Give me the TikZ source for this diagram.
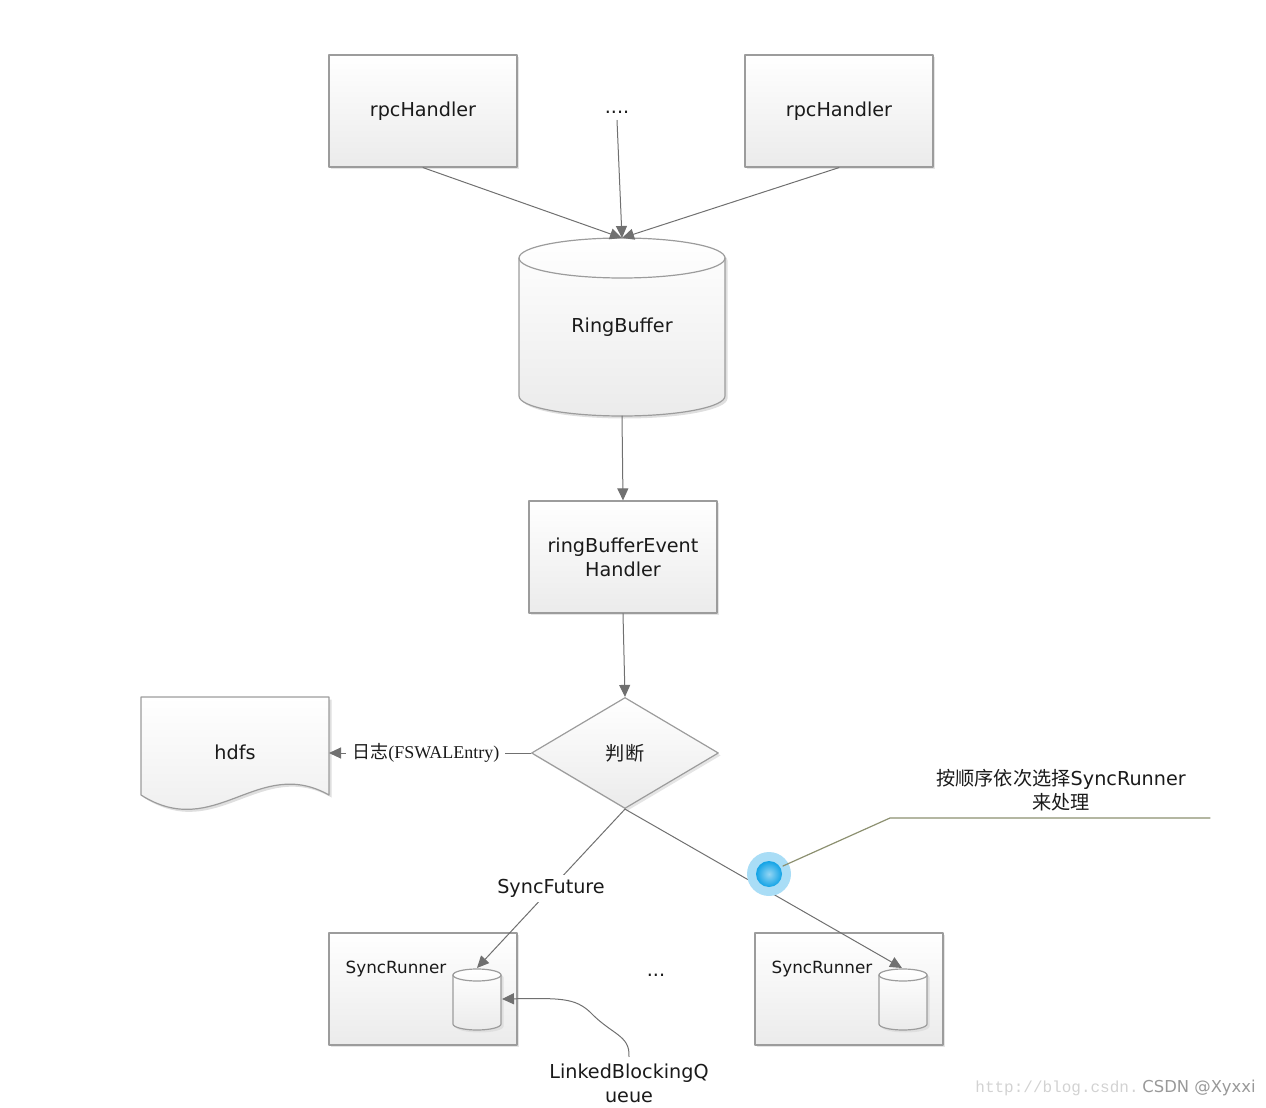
\documentclass[tikz,border=0pt]{standalone}
\usepackage{fontspec}
\setmainfont{DejaVu Sans}
\newfontfamily\cjk{Noto Sans CJK SC}
\newfontfamily\serifen{Liberation Serif}
\newfontfamily\monoen{Liberation Mono}
\usetikzlibrary{shapes.geometric,arrows.meta,shadows}

\definecolor{ink}{HTML}{1A1A1A}
\definecolor{boxline}{HTML}{9C9C9C}
\definecolor{boxfill}{HTML}{EBEBEB}
\definecolor{linkgray}{HTML}{707070}
\definecolor{noteline}{HTML}{8C9070}
\definecolor{dotouter}{HTML}{A9DDF6}
\definecolor{dotinner}{HTML}{12A3E6}

% cylinder: centre x, top y, bottom y, x radius, y radius
\newcommand{\drawdrum}[5]{%
  \path[fill=gray!25,shift={(2.5,2.5)}] ({#1-#4},#2) -- ({#1-#4},#3)
    arc[start angle=180,end angle=0,x radius=#4,y radius=#5] -- ({#1+#4},#2)
    arc[start angle=0,end angle=-180,x radius=#4,y radius=#5] -- cycle;
  \path[draw=boxline,line width=0.6pt,top color=white,bottom color=boxfill] ({#1-#4},#2) -- ({#1-#4},#3)
    arc[start angle=180,end angle=0,x radius=#4,y radius=#5] -- ({#1+#4},#2)
    arc[start angle=0,end angle=-180,x radius=#4,y radius=#5] -- cycle;
  \draw[boxline,line width=0.6pt] ({#1-#4},#2) arc[start angle=180,end angle=0,x radius=#4,y radius=#5];
}

\tikzset{
  txt/.style={text=ink, font=\fontsize{9.6}{12}\selectfont},
  small/.style={text=ink, font=\fontsize{8.4}{10}\selectfont},
  box/.style={rectangle, draw=boxline, line width=0.6pt, top color=white, bottom color=boxfill,
    minimum width=94pt, minimum height=56pt, align=center, txt,
    drop shadow={shadow xshift=1.2pt, shadow yshift=-1.2pt, fill=gray!50, opacity=0.4}},
  judgebox/.style={diamond, draw=boxline, line width=0.6pt, top color=white, bottom color=boxfill,
    minimum width=93.5pt, minimum height=55.5pt, inner sep=0pt, aspect=1.68, txt,
    drop shadow={shadow xshift=1.2pt, shadow yshift=-1.2pt, fill=gray!50, opacity=0.4}},
  link/.style={linkgray, line width=0.5pt, -{Triangle[length=6pt,width=5.5pt]}},
  plain/.style={linkgray, line width=0.5pt},
}

\begin{document}
\begin{tikzpicture}[x=0.5pt, y=-0.5pt, line cap=round, line join=round]
  \useasboundingbox (0,0) rectangle (1266,1108);

  % top row
  \node[box] (rpcL) at (423,111) {rpcHandler};
  \node[txt] (dotsTop) at (617,112) {....};
  \node[box] (rpcR) at (839,111) {rpcHandler};

  % ring buffer
  \drawdrum{622}{258}{396}{103}{20}
  \node[txt] (ring) at (622,327) {RingBuffer};
  \coordinate (ringTop) at (622,238);
  \coordinate (ringBot) at (622,416);

  \node[box] (evh) at (623,557) {ringBufferEvent\\Handler};
  \node[judgebox] (judge) at (625,753) {{\cjk 判断}};

  % hdfs document
  \path[fill=gray!25,shift={(2.5,2.5)}] (141,697) -- (329,697) -- (329,795)
    .. controls (258,755) and (215,842) .. (141,795) -- cycle;
  \path[draw=boxline,line width=0.6pt,top color=white,bottom color=boxfill] (141,697) -- (329,697) -- (329,795)
    .. controls (258,755) and (215,842) .. (141,795) -- cycle;
  \node[txt] (hdfs) at (235,752) {hdfs};
  \coordinate (hdfsR) at (329,753);

  % sync runners
  \node[box] (runA) at (423,989) {};
  \node[box] (runB) at (849,989) {};
  \node[small] (runAlbl) at (396,969) {SyncRunner};
  \node[small] (runBlbl) at (822,969) {SyncRunner};
  \drawdrum{477}{975}{1024}{24}{6}
  \drawdrum{903}{975}{1024}{24}{6}
  \coordinate (qA) at (477,968);
  \coordinate (qAR) at (502,999);
  \coordinate (qB) at (902,968);
  \node[txt] (dotsBot) at (656,975) {...};

  % connectors
  \draw[link] (rpcL.south) -- (ringTop);
  \draw[link] (dotsTop.south) -- (ringTop);
  \draw[link] (rpcR.south) -- (ringTop);
  \draw[link] (ringBot) -- (evh.north);
  \draw[link] (evh.south) -- (judge.north);
  \draw[link] (judge.west) -- node[pos=0.52, fill=white, inner sep=3pt, text=ink,
    font=\fontsize{9}{10}\selectfont] {{\cjk 日志}{\serifen(FSWALEntry)}} (hdfsR);
  \draw[link] (judge.south) -- node[fill=white, inner sep=2pt, txt] {SyncFuture} (qA);
  \draw[link] (judge.south) -- (qB);

  % queue label
  \node[txt, align=center] (lbq) at (629,1083) {LinkedBlockingQ\\ueue};
  \draw[link] (lbq.north) .. controls (630,1035) and (612,1035) .. (590,1012)
    .. controls (575,998) and (560,998) .. (qAR);

  % note
  \coordinate (dot) at (769,874);
  \fill[dotouter] (dot) circle[radius=22];
  \shade[inner color=dotinner!45, outer color=dotinner] (dot) circle[radius=13];
  \coordinate (noteKnee) at (890,818);
  \coordinate (noteEnd) at (1210,818);
  \draw[noteline, line width=0.6pt] (783,866) -- (noteKnee) -- (noteEnd);
  \node[txt, align=center] (note) at (1061,790) {{\cjk 按顺序依次选择}SyncRunner\\{\cjk 来处理}};

  % watermark
  \node[text=gray!35, font=\monoen\fontsize{8}{10}\selectfont, anchor=west, inner sep=0pt] (wm) at (975,1088) {http://blog.csdn.};
  \node[text=gray!80, font=\fontsize{8.2}{10}\selectfont, anchor=west, inner sep=0pt] (csdn) at (1142,1088) {CSDN @Xyxxi};
\end{tikzpicture}
\end{document}
